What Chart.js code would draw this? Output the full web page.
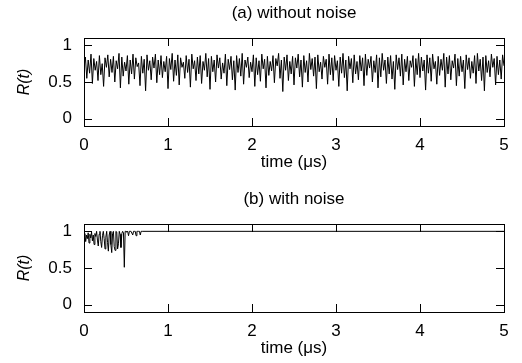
<!DOCTYPE html>
<html>
<head>
<meta charset="utf-8">
<script src="https://cdn.jsdelivr.net/npm/chart.js@4/dist/chart.umd.min.js"></script>
<style>
  html, body { margin: 0; padding: 0; width: 522px; height: 363px; overflow: hidden; background: #fff; }
  canvas { position: absolute; left: 0; }
  #painelA { top: 0; }
  #painelB { top: 186px; }
</style>
</head>
<body>
<canvas id="painelA" width="522" height="186"></canvas>
<canvas id="painelB" width="522" height="186"></canvas>
<script>
// eixo x comum: tempo em microssegundos
const tempoTicks = [0, 1, 2, 3, 4, 5];
const rTicks = [0, 0.5, 1];

// (a) sem ruído: amostras de R(t), passo de 1/60 us
const passoA = 1 / 60;
const rSemRuido = [
  0.70,0.84,0.55,0.80,0.62,0.88,0.48,0.82,0.66,0.78,0.52,0.86,0.60,0.75,0.44,0.83,0.70,0.87,0.57,0.81,
  0.63,0.85,0.50,0.79,0.68,0.89,0.42,0.84,0.58,0.77,0.65,0.86,0.47,0.80,0.61,0.88,0.54,0.83,0.71,0.76,
  0.45,0.85,0.62,0.81,0.38,0.87,0.66,0.79,0.53,0.84,0.69,0.88,0.49,0.80,0.60,0.86,0.56,0.78,0.64,0.85,
  0.41,0.82,0.67,0.89,0.51,0.80,0.59,0.87,0.46,0.83,0.70,0.77,0.55,0.86,0.63,0.81,0.43,0.88,0.68,0.79,
  0.52,0.84,0.61,0.86,0.48,0.78,0.66,0.89,0.57,0.82,0.40,0.85,0.64,0.80,0.50,0.87,0.69,0.83,0.54,0.76,
  0.62,0.88,0.45,0.81,0.67,0.85,0.53,0.79,0.39,0.86,0.63,0.82,0.58,0.89,0.47,0.80,0.70,0.84,0.56,0.77,
  0.64,0.87,0.44,0.83,0.60,0.79,0.51,0.88,0.68,0.81,0.42,0.85,0.59,0.78,0.65,0.86,0.49,0.82,0.72,0.89,
  0.55,0.80,0.37,0.84,0.66,0.87,0.52,0.78,0.61,0.85,0.46,0.83,0.69,0.88,0.57,0.80,0.43,0.86,0.63,0.79,
  0.50,0.89,0.67,0.82,0.58,0.84,0.41,0.87,0.64,0.77,0.54,0.85,0.70,0.81,0.47,0.88,0.60,0.83,0.52,0.86,
  0.66,0.79,0.44,0.84,0.62,0.89,0.56,0.80,0.38,0.85,0.68,0.82,0.49,0.87,0.61,0.78,0.53,0.86,0.65,0.83,
  0.45,0.88,0.59,0.81,0.69,0.85,0.50,0.79,0.63,0.87,0.42,0.83,0.57,0.89,0.66,0.80,0.48,0.84,0.61,0.86,
  0.54,0.78,0.40,0.87,0.67,0.83,0.58,0.88,0.46,0.81,0.64,0.85,0.52,0.79,0.70,0.86,0.44,0.82,0.60,0.89,
  0.56,0.84,0.65,0.80,0.39,0.87,0.62,0.83,0.51,0.88,0.68,0.78,0.47,0.85,0.59,0.81,0.66,0.89,0.43,0.84,
  0.61,0.86,0.53,0.79,0.69,0.88,0.45,0.82,0.58,0.85,0.64,0.80,0.41,0.87,0.67,0.83,0.55,0.78,0.62,0.86,
  0.48,0.89,0.65,0.81,0.52,0.84,0.38,0.86,0.63,0.79,0.57,0.88,0.70,0.82,0.46,0.85,0.60,0.80,0.54,0.87,
  0.72
];

// (b) com ruído: passo de 0.01 us até estabilizar em 1
const passoB = 0.01;
const rComRuido = [
  0.93,0.97,0.86,0.95,0.90,0.98,0.84,0.96,0.91,0.99,
  0.87,0.95,0.82,0.97,0.93,1.00,0.88,0.80,0.96,1.00,
  0.86,0.78,0.94,1.00,0.90,0.76,0.92,1.00,0.85,0.73,
  0.95,1.00,0.82,0.71,0.97,1.00,0.79,0.74,1.00,0.99,
  0.76,0.83,1.00,0.96,0.78,0.97,1.00,0.98,0.51,1.00,
  1.00,0.99,1.00,0.94,1.00,1.00,1.00,1.00,0.95,1.00,
  1.00,1.00,0.94,1.00,1.00,1.00,1.00,0.95,1.00,1.00,
  1.00
];
const tempoFinal = 5;

function pontos(valores, passo) {
  return valores.map((v, i) => ({ x: i * passo, y: v }));
}

const fonte = { family: "'Liberation Sans', Arial, sans-serif", size: 17 };

// título centrado sobre a área do gráfico (e não sobre o canvas inteiro)
const tituloPlugin = {
  id: 'tituloPainel',
  afterDraw(chart, args, opts) {
    const { ctx, chartArea: a } = chart;
    ctx.save();
    ctx.fillStyle = '#000';
    ctx.font = `${fonte.size}px ${fonte.family}`;
    ctx.textAlign = 'center';
    ctx.textBaseline = 'middle';
    ctx.fillText(opts.text, (a.left + a.right) / 2, 13);
    ctx.restore();
  }
};

// moldura e marcas para dentro nos quatro lados
const molduraPlugin = {
  id: 'moldura',
  afterDraw(chart) {
    const { ctx, chartArea: a, scales } = chart;
    const L = 8;
    ctx.save();
    ctx.strokeStyle = '#000';
    ctx.lineWidth = 1;
    ctx.beginPath();
    scales.x.ticks.forEach(t => {
      const px = Math.round(scales.x.getPixelForValue(t.value)) + 0.5;
      ctx.moveTo(px, a.bottom); ctx.lineTo(px, a.bottom - L);
      ctx.moveTo(px, a.top); ctx.lineTo(px, a.top + L);
    });
    scales.y.ticks.forEach(t => {
      const py = Math.round(scales.y.getPixelForValue(t.value)) + 0.5;
      ctx.moveTo(a.left, py); ctx.lineTo(a.left + L, py);
      ctx.moveTo(a.right, py); ctx.lineTo(a.right - L, py);
    });
    ctx.stroke();
    ctx.strokeRect(Math.round(a.left) + 0.5, Math.round(a.top) + 0.5,
                   Math.round(a.right - a.left), Math.round(a.bottom - a.top));
    ctx.restore();
  }
};

function criarPainel(id, titulo, dados) {
  return new Chart(document.getElementById(id), {
    type: 'line',
    data: {
      datasets: [{
        data: dados,
        borderColor: '#000',
        borderWidth: 1,
        pointRadius: 0,
        tension: 0,
        fill: false
      }]
    },
    options: {
      responsive: false,
      animation: false,
      layout: { padding: { top: 38, right: 18, bottom: 0, left: 0 } },
      plugins: {
        legend: { display: false },
        tooltip: { enabled: false },
        title: { display: false },
        tituloPainel: { text: titulo }
      },
      scales: {
        x: {
          type: 'linear',
          min: 0,
          max: 5,
          afterBuildTicks: ax => { ax.ticks = tempoTicks.map(v => ({ value: v })); },
          afterFit: ax => { ax.height = 60; },
          grid: { display: false, drawTicks: false },
          border: { display: false },
          ticks: { color: '#000', font: fonte, padding: 9, maxRotation: 0, callback: v => String(v) },
          title: {
            display: true,
            text: 'time (μs)',
            color: '#000',
            font: fonte,
            padding: { top: 0, bottom: 13 }
          }
        },
        y: {
          min: -0.1,
          max: 1.1,
          afterBuildTicks: ax => { ax.ticks = rTicks.map(v => ({ value: v })); },
          afterFit: ax => { ax.width = 84; },
          grid: { display: false, drawTicks: false },
          border: { display: false },
          ticks: { color: '#000', font: fonte, padding: 12, callback: v => String(v) },
          title: {
            display: true,
            text: 'R(t)',
            color: '#000',
            font: { family: fonte.family, size: 16, style: 'italic' },
            padding: { top: 15, bottom: 0 }
          }
        }
      }
    },
    plugins: [tituloPlugin, molduraPlugin]
  });
}

criarPainel('painelA', '(a) without noise', pontos(rSemRuido, passoA));

const dadosB = pontos(rComRuido, passoB);
dadosB.push({ x: tempoFinal, y: rComRuido[rComRuido.length - 1] });
criarPainel('painelB', '(b) with noise', dadosB);
</script>
</body>
</html>
